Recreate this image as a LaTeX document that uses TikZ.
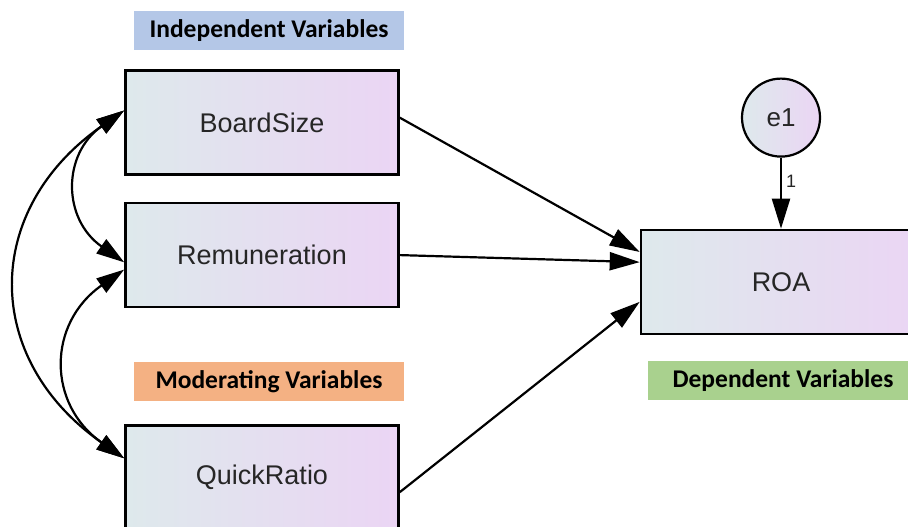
\documentclass[tikz,border=0pt]{standalone}
\usepackage{fontspec}
\setmainfont{Liberation Sans}
\newfontfamily\calibri{Carlito}
\usetikzlibrary{arrows.meta,positioning}
\definecolor{varleft}{RGB}{222,233,236}
\definecolor{varmid}{RGB}{229,222,241}
\definecolor{varright}{RGB}{235,213,244}
\definecolor{indepfill}{RGB}{180,199,231}
\definecolor{modfill}{RGB}{244,177,131}
\definecolor{depfill}{RGB}{169,209,142}
\definecolor{vartext}{RGB}{38,38,38}
\tikzset{
  var/.style={draw, line width=2.6pt, left color=varleft, middle color=varmid, right color=varright, minimum width=273pt, minimum height=104pt, inner sep=0pt, font=\fontsize{27}{32}\selectfont, text=vartext},
  err/.style={draw, circle, line width=2.2pt, left color=varleft, right color=varright, minimum size=78pt, inner sep=0pt, font=\fontsize{26}{30}\selectfont, text=vartext},
  lbl/.style={minimum width=270pt, minimum height=39pt, inner sep=0pt, font=\calibri\bfseries\fontsize{25.5}{28}\selectfont},
  arr/.style={-{Triangle[length=30pt, width=18pt]}, line width=2.2pt},
  cov/.style={{Triangle[length=28pt, width=17pt]}-{Triangle[length=28pt, width=17pt]}, line width=2.2pt, looseness=1.28},
  wt/.style={font=\fontsize{18}{20}\selectfont, text=vartext, anchor=west, inner sep=4pt}}

\begin{document}
\begin{tikzpicture}[x=1pt, y=1pt]
  \useasboundingbox (0,0) rectangle (908,527);
  \clip (0,0) rectangle (908,527);
  % observed variables
  \node[var] (bs) at (262,404.5) {BoardSize};
  \node[var, below=26pt of bs] (rem) {Remuneration};
  \node[var, below=116pt of rem] (qr) {QuickRatio};
  \node[var, minimum width=280pt] (roa) at (781,245) {ROA};
  \node[err, above=71pt of roa] (e1) {e1};
  % group labels
  \node[lbl, fill=indepfill, above=19pt of bs, xshift=7pt] (indep) {Independent Variables};
  \node[lbl, fill=modfill, above=23pt of qr, xshift=7pt] (moder) {Moderating Variables};
  \node[lbl, fill=depfill, below=26pt of roa, xshift=2pt] (dep) {Dependent Variables};
  % paths
  \draw[arr] (bs.2) -- (roa.168);
  \draw[arr] (rem.east) -- (roa.172);
  \draw[arr] (qr.354) -- (roa.188);
  \draw[arr] (e1) -- (roa) node[wt, pos=0.33] {1};
  % covariances
  \draw[cov] (bs.175) to[out=215, in=145] (rem.183);
  \draw[cov] (rem.186) to[out=215, in=145] (qr.172);
  \draw[cov] (bs.175) to[out=215, in=145] (qr.172);
\end{tikzpicture}
\end{document}
